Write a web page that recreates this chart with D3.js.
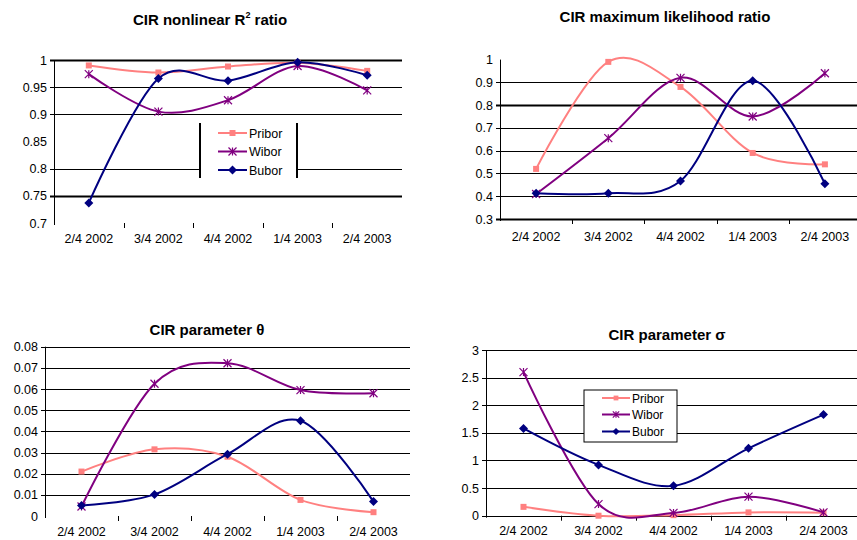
<!DOCTYPE html>
<html>
<head>
<meta charset="utf-8">
<script src="https://cdn.jsdelivr.net/npm/d3@7"></script>
<style>
  body { margin: 0; background: #fff; }
  svg { display: block; font-family: "Liberation Sans", Arial, sans-serif; }
</style>
</head>
<body>
<script>
'use strict';

// categories on every x axis
const dates = ["2/4 2002", "3/4 2002", "4/4 2002", "1/4 2003", "2/4 2003"];
const seriesNames = ["Pribor", "Wibor", "Bubor"];

// CIR nonlinear R^2 ratio
const r2Pribor = [0.990, 0.977, 0.988, 0.995, 0.980];
const r2Wibor  = [0.974, 0.905, 0.926, 0.989, 0.944];
const r2Bubor  = [0.737, 0.966, 0.962, 0.996, 0.972];
const r2Ticks  = [0.7, 0.75, 0.8, 0.85, 0.9, 0.95, 1];

// CIR maximum likelihood ratio
const mlPribor = [0.52, 0.99, 0.88, 0.59, 0.54];
const mlWibor  = [0.41, 0.655, 0.92, 0.75, 0.94];
const mlBubor  = [0.413, 0.413, 0.467, 0.907, 0.455];
const mlTicks  = [0.3, 0.4, 0.5, 0.6, 0.7, 0.8, 0.9, 1];

// CIR parameter theta
const thPribor = [0.021, 0.0315, 0.028, 0.0076, 0.0018];
const thWibor  = [0.0045, 0.0625, 0.0722, 0.0595, 0.058];
const thBubor  = [0.005, 0.0102, 0.0292, 0.045, 0.0068];
const thTicks  = [0, 0.01, 0.02, 0.03, 0.04, 0.05, 0.06, 0.07, 0.08];

// CIR parameter sigma
const sgPribor = [0.16, 0.0, 0.01, 0.06, 0.055];
const sgWibor  = [2.6, 0.21, 0.05, 0.345, 0.06];
const sgBubor  = [1.58, 0.92, 0.54, 1.22, 1.83];
const sgTicks  = [0, 0.5, 1, 1.5, 2, 2.5, 3];

const colors = { "Pribor": "#ff8080", "Wibor": "#800080", "Bubor": "#000080" };

const svg = d3.select('body').append('svg')
  .attr('width', 857)
  .attr('height', 540);

const panels = [
  { title: "r2", titleX: 210, titleY: 25,
    left: 54, right: 402, top: 60, bottom: 223, labelY: 243,
    ticks: r2Ticks, grid: [0.75, 0.8, 0.9, 0.95, 1], thick: [0.75, 1],
    values: [r2Pribor, r2Wibor, r2Bubor], legend: "open" },
  { title: "CIR maximum likelihood ratio", titleX: 665, titleY: 22,
    left: 500, right: 861, top: 59.6, bottom: 219, labelY: 241,
    ticks: mlTicks, grid: [0.3, 0.4, 0.5, 0.6, 0.7, 0.8, 0.9], thick: [0.3, 0.8],
    values: [mlPribor, mlWibor, mlBubor] },
  { title: "CIR parameter θ", titleX: 207, titleY: 335,
    left: 45, right: 410, top: 346.7, bottom: 516, labelY: 536,
    ticks: thTicks, grid: [0.01, 0.02, 0.03, 0.04, 0.05, 0.06, 0.07, 0.08], thick: [],
    values: [thPribor, thWibor, thBubor] },
  { title: "CIR parameter σ", titleX: 667, titleY: 340,
    left: 486, right: 861, top: 350, bottom: 515.7, labelY: 535,
    ticks: sgTicks, grid: [0, 0.5, 1, 1.5, 2, 2.5, 3], thick: [],
    values: [sgPribor, sgWibor, sgBubor], legend: "box" }
];

panels.forEach(drawPanel);

function drawPanel(p) {
  const g = svg.append('g');

  let x = d3.scaleBand().domain(dates).range([p.left, p.right]);
  let y = d3.scaleLinear()
    .domain([p.ticks[0], p.ticks[p.ticks.length - 1]])
    .range([p.bottom, p.top]);

  // title
  let t = g.append('text')
    .attr('x', p.titleX)
    .attr('y', p.titleY)
    .attr('text-anchor', 'middle')
    .style('font-size', '15px')
    .style('font-weight', 'bold');
  if (p.title == "r2") {
    t.append('tspan').text("CIR nonlinear R");
    t.append('tspan').attr('dy', -7).style('font-size', '9px').text("2");
    t.append('tspan').attr('dy', 7).text(" ratio");
  } else {
    t.text(p.title);
  }

  // gridlines (they also poke out left of the axis as ticks)
  g.selectAll('.grid')
    .data(p.grid)
    .enter().append('line')
    .attr('x1', p.left - 4)
    .attr('x2', Math.min(p.right, 857))
    .attr('y1', d => Math.round(y(d)) + 0.5)
    .attr('y2', d => Math.round(y(d)) + 0.5)
    .attr('stroke', '#000')
    .attr('stroke-width', d => p.thick.includes(d) ? 2 : 1);

  // y axis line
  g.append('line')
    .attr('x1', p.left + 0.5).attr('x2', p.left + 0.5)
    .attr('y1', p.top).attr('y2', p.bottom + 2)
    .attr('stroke', '#000');

  // y tick labels
  g.selectAll('.ylab')
    .data(p.ticks)
    .enter().append('text')
    .attr('x', p.left - 7)
    .attr('y', d => y(d) + 4.5)
    .attr('text-anchor', 'end')
    .style('font-size', '12.5px')
    .text(d => d);

  // category tick marks on the x axis
  let bounds = dates.slice(1).map(d => x(d));
  g.selectAll('.xtick')
    .data(bounds)
    .enter().append('line')
    .attr('x1', d => Math.round(d) + 0.5).attr('x2', d => Math.round(d) + 0.5)
    .attr('y1', p.bottom).attr('y2', p.bottom + 5)
    .attr('stroke', '#000');

  // x labels
  g.selectAll('.xlab')
    .data(dates)
    .enter().append('text')
    .attr('x', d => x(d) + x.bandwidth() / 2)
    .attr('y', p.labelY)
    .attr('text-anchor', 'middle')
    .style('font-size', '12.5px')
    .text(d => d);

  let cx = (d, i) => x(dates[i]) + x.bandwidth() / 2;
  let line = d3.line()
    .x(cx)
    .y(d => y(d))
    .curve(d3.curveCardinal.tension(0));

  // legend sits under the lines
  if (p.legend) drawLegend(g, p.legend);

  p.values.forEach((vals, s) => {
    let name = seriesNames[s];
    g.append('path')
      .attr('d', line(vals))
      .attr('fill', 'none')
      .attr('stroke', colors[name])
      .attr('stroke-width', 2);
    vals.forEach((v, i) => drawMarker(g, name, cx(v, i), y(v), 1));
  });
}

function drawMarker(g, name, px, py, k) {
  let c = colors[name];
  if (name == "Pribor") {
    g.append('rect')
      .attr('x', px - 3 * k).attr('y', py - 3 * k)
      .attr('width', 6 * k).attr('height', 6 * k)
      .attr('fill', c);
  } else if (name == "Wibor") {
    let r = 4 * k;
    g.append('path')
      .attr('d', `M${px - r},${py - r}L${px + r},${py + r}M${px - r},${py + r}L${px + r},${py - r}` +
                 `M${px},${py - r}L${px},${py + r}`)
      .attr('stroke', c)
      .attr('stroke-width', 1.2);
  } else {
    let r = 4.5 * k;
    g.append('path')
      .attr('d', `M${px},${py - r}L${px + r},${py}L${px},${py + r}L${px - r},${py}Z`)
      .attr('fill', c);
  }
}

function drawLegend(g, kind) {
  let box = kind == "open"
    ? { x: 200, y: 123, w: 97, h: 55, rows: [133, 151.5, 170], l0: 218, l1: 247, k: 1, fs: 12.5 }
    : { x: 584, y: 390, w: 93, h: 52, rows: [398, 414.5, 431.5], l0: 602, l1: 630, k: 0.8, fs: 12 };

  g.append('rect')
    .attr('x', box.x).attr('y', box.y)
    .attr('width', box.w).attr('height', box.h)
    .attr('fill', '#fff')
    .attr('stroke', kind == "box" ? '#000' : 'none');

  if (kind == "open") {
    [box.x, box.x + box.w].forEach(lx => {
      g.append('line')
        .attr('x1', lx).attr('x2', lx)
        .attr('y1', box.y).attr('y2', box.y + box.h)
        .attr('stroke', '#000').attr('stroke-width', 2);
    });
  }

  seriesNames.forEach((name, i) => {
    let ry = box.rows[i];
    g.append('line')
      .attr('x1', box.l0).attr('x2', box.l1)
      .attr('y1', ry).attr('y2', ry)
      .attr('stroke', colors[name]).attr('stroke-width', 2);
    drawMarker(g, name, (box.l0 + box.l1) / 2, ry, box.k);
    g.append('text')
      .attr('x', box.l1 + 2)
      .attr('y', ry + 4.5)
      .style('font-size', box.fs + 'px')
      .text(name);
  });
}
</script>
</body>
</html>
